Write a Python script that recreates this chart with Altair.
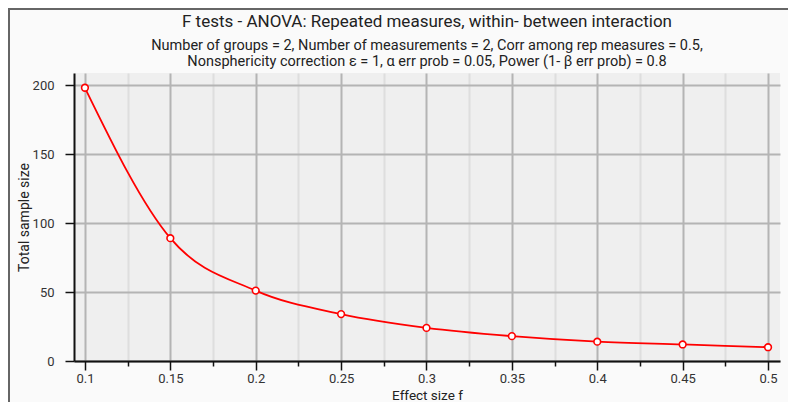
import altair as alt
import pandas as pd

effect_size = [0.1, 0.15, 0.2, 0.25, 0.3, 0.35, 0.4, 0.45, 0.5]
sample_size = [198, 89, 51, 34, 24, 18, 14, 12, 10]

x_ticks = [0.1, 0.125, 0.15, 0.175, 0.2, 0.225, 0.25, 0.275, 0.3, 0.325,
           0.35, 0.375, 0.4, 0.425, 0.45, 0.475, 0.5]
y_ticks = [0, 25, 50, 75, 100, 125, 150, 175, 200]

title_text = "F tests -  ANOVA: Repeated measures, within- between interaction"
subtitle_lines = [
    "Number of groups = 2, Number of measurements = 2, Corr among rep measures = 0.5,",
    "Nonsphericity correction \u03b5 = 1, \u03b1 err prob = 0.05, Power (1- \u03b2 err prob) = 0.8",
]

df = pd.DataFrame({"f": effect_size, "n": sample_size})
one = pd.DataFrame({"a": [0]})

FONT = "Roboto"
xmajor = "round(datum.value*1000) % 50 == 0"
ymajor = "datum.value % 50 == 0"

x_enc = alt.X(
    "f:Q",
    title="Effect size f",
    scale=alt.Scale(domain=[0.0936, 0.507], nice=False, zero=False),
    axis=alt.Axis(
        values=x_ticks,
        labelExpr=f"{xmajor} ? format(datum.value, '.2~f') : ''",
        tickSize={"condition": {"test": xmajor, "value": 9}, "value": 5},
        gridColor={"condition": {"test": xmajor, "value": "#b4b4b4"}, "value": "#dedede"},
        gridWidth=2,
        domainColor="#111111",
        domainWidth=2,
        tickColor="#111111",
        tickWidth=1.5,
        labelPadding=2,
        labelFontSize=13,
        labelColor="#333333",
        labelFont=FONT,
        titleFont=FONT,
        titleFontSize=13.5,
        titleFontWeight="normal",
        titleColor="#222222",
        titleY=34,
        titleBaseline="middle",
    ),
)

y_enc = alt.Y(
    "n:Q",
    title="Total sample size",
    scale=alt.Scale(domain=[0, 208.7], nice=False, zero=False),
    axis=alt.Axis(
        values=y_ticks,
        labelExpr=f"{ymajor} ? format(datum.value, 'd') : ''",
        tickSize={"condition": {"test": ymajor, "value": 9}, "value": 6},
        gridColor={"condition": {"test": ymajor, "value": "#b4b4b4"}, "value": "#dedede"},
        gridWidth=2,
        domainColor="#111111",
        domainWidth=2,
        tickColor="#111111",
        tickWidth=1.5,
        labelPadding=11,
        labelFontSize=13,
        labelColor="#333333",
        labelFont=FONT,
        titleFont=FONT,
        titleFontSize=14,
        titleFontWeight="normal",
        titleColor="#222222",
        titleX=-50,
        titleY=144,
        titleAngle=270,
        titleAlign="center",
        titleBaseline="middle",
    ),
)

base = alt.Chart(df)

line = base.mark_line(color="#ff0000", strokeWidth=1.8, interpolate="monotone").encode(
    x=x_enc, y=y_enc
)
points = base.mark_point(
    shape="circle", filled=True, fill="white", stroke="#ff0000", strokeWidth=1.6,
    size=45, opacity=1
).encode(x="f:Q", y="n:Q")

frame_top = alt.Chart(one).mark_rule(color="#666666", strokeWidth=2).encode(
    x=alt.value(-65), x2=alt.value(740), y=alt.value(-64)
)
frame_left = alt.Chart(one).mark_rule(color="#666666", strokeWidth=2).encode(
    x=alt.value(-65), y=alt.value(-65), y2=alt.value(340)
)

title_mark = alt.Chart(one).mark_text(
    font=FONT, fontSize=17, color="#222222", align="center", baseline="middle"
).encode(x=alt.value(353), y=alt.value(-51), text=alt.value(title_text))
sub1_mark = alt.Chart(one).mark_text(
    font=FONT, fontSize=14.5, color="#222222", align="center", baseline="middle"
).encode(x=alt.value(353), y=alt.value(-27), text=alt.value(subtitle_lines[0]))
sub2_mark = alt.Chart(one).mark_text(
    font=FONT, fontSize=14.5, color="#222222", align="center", baseline="middle"
).encode(x=alt.value(353), y=alt.value(-11), text=alt.value(subtitle_lines[1]))

chart = alt.layer(
    line, points, frame_top, frame_left, title_mark, sub1_mark, sub2_mark
).properties(
    width=706,
    height=288,
    autosize=alt.AutoSizeParams(type="none"),
    padding={"left": 66, "top": 65, "right": 8, "bottom": 41},
    background="#fafafa",
).configure_view(fill="#efefef", stroke=None)

chart.save("out.html", embed_options={"renderer": "svg", "actions": False})
